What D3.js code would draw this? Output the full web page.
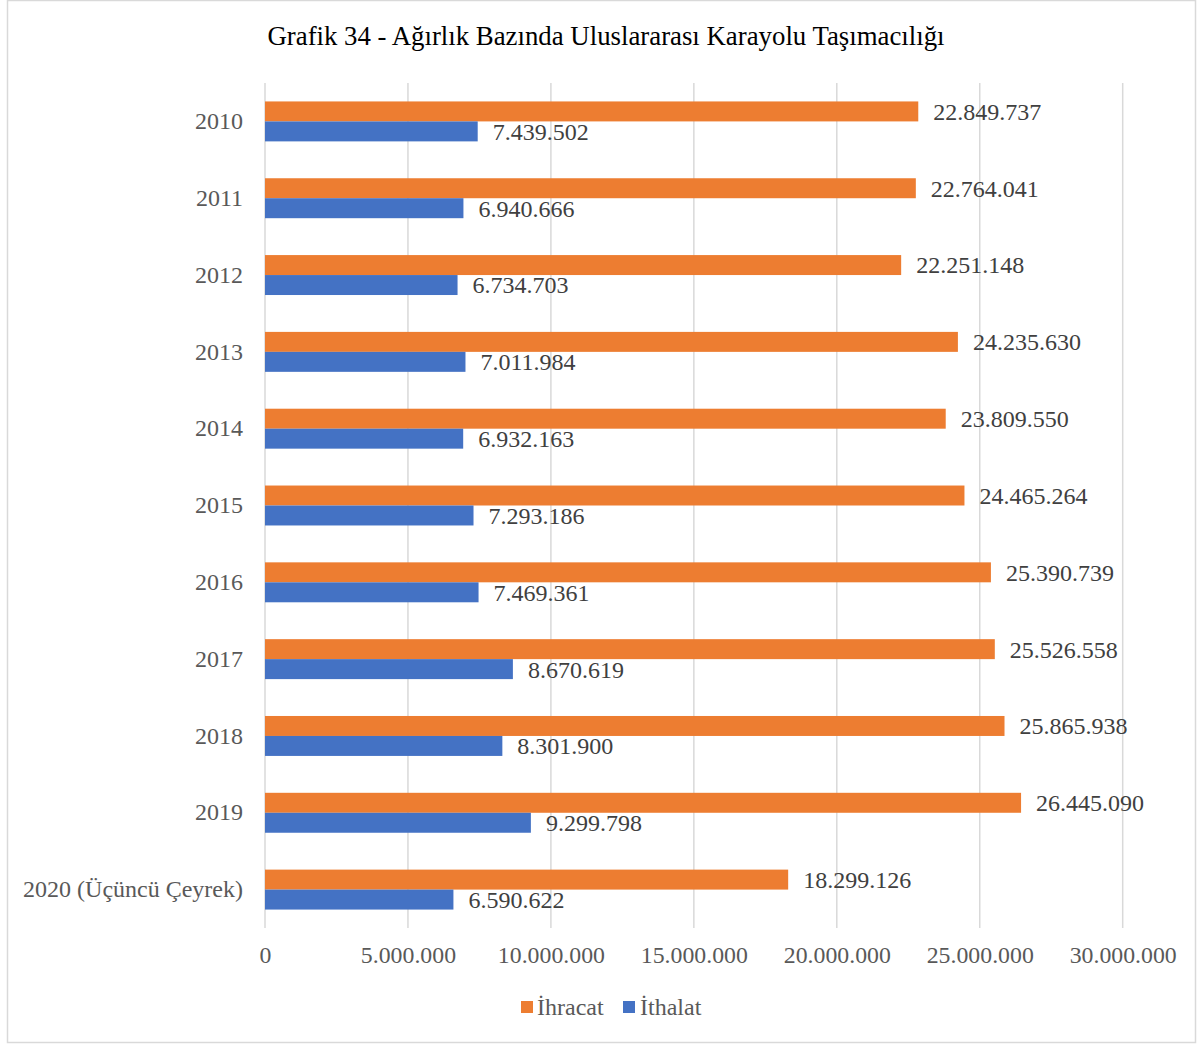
<!DOCTYPE html>
<html>
<head>
<meta charset="utf-8">
<script src="https://cdn.jsdelivr.net/npm/d3@7"></script>
<style>
  body { margin: 0; background: #fff; }
  svg { display: block; }
</style>
</head>
<body>
<svg id="chart" width="1203" height="1045"></svg>
<script>
const categories = ["2010","2011","2012","2013","2014","2015","2016","2017","2018","2019","2020 (Üçüncü Çeyrek)"];
const ihracat = [22849737,22764041,22251148,24235630,23809550,24465264,25390739,25526558,25865938,26445090,18299126];
const ithalat = [7439502,6940666,6734703,7011984,6932163,7293186,7469361,8670619,8301900,9299798,6590622];
const seriesNames = ["İhracat","İthalat"];
const seriesColors = ["#ED7D31","#4472C4"];
const xTicks = [0,5000000,10000000,15000000,20000000,25000000,30000000];
const title = "Grafik 34 - Ağırlık Bazında Uluslararası Karayolu Taşımacılığı";

const svg = d3.select("#chart");
const font = "'Liberation Serif', 'Times New Roman', serif";
const fmt = v => d3.format(",")(v).replace(/,/g, ".");

// outer border
svg.append("rect").attr("x", 7.5).attr("y", 0.5).attr("width", 1188).attr("height", 1042)
  .attr("fill", "#fff").attr("stroke", "#d9d9d9").attr("stroke-width", 1.5);

const plotLeft = 265, plotRight = 1122.7, plotTop = 83, plotBottom = 928;
const x = d3.scaleLinear().domain([0, 30000000]).range([plotLeft, plotRight]);
const y = d3.scaleBand().domain(categories).range([plotTop, plotBottom]).paddingInner(0.48).paddingOuter(0.24);
const sub = d3.scaleBand().domain(seriesNames).range([0, y.bandwidth()]);

// title
svg.append("text").attr("x", 606).attr("y", 36).attr("dy", "0.35em").attr("text-anchor", "middle")
  .attr("font-family", font).attr("font-size", 26.8).attr("fill", "#000").text(title);

// gridlines
svg.append("g").selectAll("line").data(xTicks).join("line")
  .attr("x1", d => x(d)).attr("x2", d => x(d)).attr("y1", plotTop).attr("y2", plotBottom)
  .attr("stroke", "#d9d9d9").attr("stroke-width", 1.5);

// x axis labels
const xAxis = d3.axisBottom(x).tickValues(xTicks).tickFormat(fmt).tickSize(0).tickPadding(0);
const gx = svg.append("g").attr("transform", `translate(0,${plotBottom})`).call(xAxis);
gx.select(".domain").remove();
gx.selectAll("text").attr("y", 27).attr("dy", "0.35em")
  .attr("font-family", font).attr("font-size", 23.8).attr("fill", "#595959");

// y axis labels
const yAxis = d3.axisLeft(y).tickSize(0).tickPadding(0);
const gy = svg.append("g").attr("transform", `translate(243,0)`).call(yAxis);
gy.select(".domain").remove();
gy.selectAll("text").attr("font-family", font).attr("font-size", 24).attr("fill", "#595959");

const data = categories.map((c, i) => ({cat: c, vals: [ihracat[i], ithalat[i]]}));
const groups = svg.append("g").selectAll("g").data(data).join("g")
  .attr("transform", d => `translate(0,${y(d.cat)})`);

groups.selectAll("rect").data(d => d.vals.map((v, j) => ({v, j}))).join("rect")
  .attr("x", x(0)).attr("y", d => sub(seriesNames[d.j]))
  .attr("width", d => x(d.v) - x(0)).attr("height", sub.bandwidth())
  .attr("fill", d => seriesColors[d.j]);

groups.selectAll("text").data(d => d.vals.map((v, j) => ({v, j}))).join("text")
  .attr("x", d => x(d.v) + 15).attr("y", d => sub(seriesNames[d.j]) + sub.bandwidth() / 2)
  .attr("dy", "0.35em")
  .attr("font-family", font).attr("font-size", 24).attr("fill", "#404040")
  .text(d => fmt(d.v));

// legend
const legendItems = [{x: 521, tx: 537}, {x: 623, tx: 640}];
const lg = svg.append("g");
seriesNames.forEach((n, i) => {
  lg.append("rect").attr("x", legendItems[i].x).attr("y", 1001).attr("width", 12).attr("height", 12)
    .attr("fill", seriesColors[i]);
  lg.append("text").attr("x", legendItems[i].tx).attr("y", 1007).attr("dy", "0.35em")
    .attr("font-family", font).attr("font-size", 24).attr("fill", "#595959").text(n);
});
</script>
</body>
</html>
